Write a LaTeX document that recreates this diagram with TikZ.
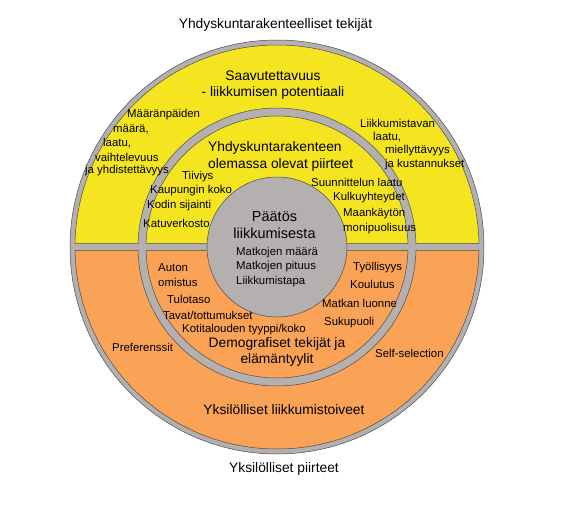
\documentclass[tikz,border=0pt]{standalone}
\usepackage{fontspec}
\setmainfont{Liberation Sans}
\usepackage{tikz}
\definecolor{ringgray}{RGB}{181,176,176}
\definecolor{yellowfill}{RGB}{245,228,32}
\definecolor{orangefill}{RGB}{250,162,86}

\begin{document}
\begin{tikzpicture}[x=1pt,y=1pt]
		\tikzstyle{ring}=[draw=black!70,line width=0.5pt]
		\tikzstyle{small}=[inner sep=0pt,anchor=west,align=left,font=\fontsize{11.4}{14.5}\selectfont]
		\tikzstyle{big}=[inner sep=0pt,align=center,font=\fontsize{13.8}{16.5}\selectfont]
		
		\useasboundingbox (-277,-265) rectangle (299,247);
		
		\draw[ring,fill=ringgray] (0,0) circle (207);
		\draw[ring,fill=yellowfill] (0.99:202) arc[start angle=0.99,end angle=179.01,radius=202] -- (178.56:139) arc[start angle=178.56,end angle=1.44,radius=139] -- cycle;
		\draw[ring,fill=orangefill] (-0.99:202) arc[start angle=-0.99,end angle=-179.01,radius=202] -- (-178.56:139) arc[start angle=-178.56,end angle=-1.44,radius=139] -- cycle;
		\draw[ring,fill=yellowfill] (1.53:131) arc[start angle=1.53,end angle=178.47,radius=131] -- cycle;
		\draw[ring,fill=orangefill] (-1.53:131) arc[start angle=-1.53,end angle=-178.47,radius=131] -- cycle;
		\draw[ring,fill=ringgray] (0,0) circle (70);
		
		\node[big] (title) at (-1.5,222) {Yhdyskuntarakenteelliset tekijät};
		\node[big] (bottomtitle) at (7,-222) {Yksilölliset piirteet};
		
		\node[big] (saavutettavuus) at (-4,162) {Saavutettavuus\\- liikkumisen potentiaali};
		\node[small] (kohde1) at (-150,132) {Määränpäiden};
		\node[small] (kohde2) at (-164,118) {määrä,};
		\node[small] (kohde3) at (-174,104) {laatu,};
		\node[small] (kohde4) at (-182,90) {vaihtelevuus};
		\node[small] (kohde5) at (-192,76) {ja yhdistettävyys};
		\node[small] (tapa1) at (83,124) {Liikkumistavan};
		\node[small] (tapa2) at (96,110) {laatu,};
		\node[small] (tapa3) at (108,96) {miellyttävyys};
		\node[small] (tapa4) at (108,82) {ja kustannukset};
		
		\node[big,anchor=west,align=left] (rakenne) at (-69,90.5) {Yhdyskuntarakenteen\\olemassa olevat piirteet};
		\node[small] (tiiviys) at (-95,70) {Tiiviys};
		\node[small] (koko) at (-127,56) {Kaupungin koko};
		\node[small] (sijainti) at (-130,41) {Kodin sijainti};
		\node[small] (katu) at (-134,24) {Katuverkosto};
		\node[small] (suunnittelu) at (34,65) {Suunnittelun laatu};
		\node[small] (kulku) at (56,49) {Kulkuyhteydet};
		\node[small] (maankaytto) at (66,26) {Maankäytön\\monipuolisuus};
		
		\node[big,font=\fontsize{14.5}{16.5}\selectfont] (paatos) at (-2.5,22) {Päätös\\liikkumisesta};
		\node[small] (matkat) at (-41,-20) {Matkojen määrä\\Matkojen pituus\\Liikkumistapa};
		
		\node[small] (auto) at (-119,-28) {Auton\\omistus};
		\node[small] (tulo) at (-110,-52) {Tulotaso};
		\node[small] (tavat) at (-114,-68) {Tavat/tottumukset};
		\node[small] (kotitalous) at (-95,-83) {Kotitalouden tyyppi/koko};
		\node[small] (tyo) at (76,-21) {Työllisyys};
		\node[small] (koulutus) at (73,-37) {Koulutus};
		\node[small] (luonne) at (45,-56) {Matkan luonne};
		\node[small] (sukupuoli) at (47,-76) {Sukupuoli};
		\node[big] (demografia) at (0,-105) {Demografiset tekijät ja\\elämäntyylit};
		
		\node[small] (preferenssit) at (-165,-100) {Preferenssit};
		\node[small] (selection) at (98,-106) {Self-selection};
		\node[big] (toiveet) at (7,-163) {Yksilölliset liikkumistoiveet};
		
		\end{tikzpicture}
\end{document}
